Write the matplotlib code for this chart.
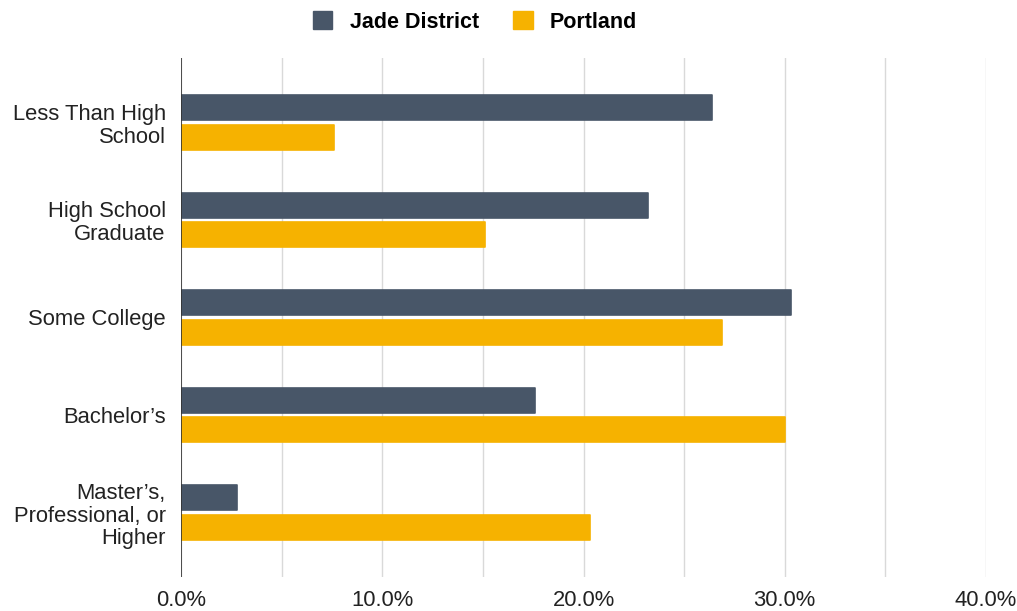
import numpy as np
import matplotlib.pyplot as plt
from matplotlib.patches import Patch
from matplotlib.ticker import MultipleLocator, FuncFormatter

plt.rcParams['font.family'] = ['Liberation Sans', 'DejaVu Sans']

categories = ["Less Than High\nSchool", "High School\nGraduate", "Some College",
              "Bachelor\u2019s", "Master\u2019s,\nProfessional, or\nHigher"]
jade = [26.4, 23.2, 30.3, 17.6, 2.8]
portland = [7.6, 15.1, 26.9, 30.0, 20.3]
series_names = ["Jade District", "Portland"]

jade_color = '#485668'
portland_color = '#f6b200'

fig = plt.figure(figsize=(10.17, 6.11), dpi=100)
ax = fig.add_axes([181 / 1017, 1 - 577 / 611, (986 - 181) / 1017, (577 - 58) / 611])

y = np.arange(len(categories))
h = 0.255
gap = 0.05
for vals, off, col in [(jade, -(h + gap) / 2, jade_color), (portland, (h + gap) / 2, portland_color)]:
    ax.barh(y + off, vals, height=h, color=col, edgecolor=col, linewidth=1.2,
            joinstyle='round', zorder=3)

ax.set_xlim(0, 40)
ax.set_ylim(4.66, -0.66)
ax.xaxis.set_major_locator(MultipleLocator(10))
ax.xaxis.set_minor_locator(MultipleLocator(5))
ax.xaxis.set_major_formatter(FuncFormatter(lambda v, p: f"{v:.1f}%"))
ax.grid(axis='x', which='both', color='#d9d9d9', linewidth=1, zorder=0)
ax.axvline(0, color='#333333', linewidth=1.2, zorder=4)
for s in ax.spines.values():
    s.set_visible(False)
ax.tick_params(axis='both', which='both', length=0, labelsize=15.8, colors='#222222')
ax.tick_params(axis='x', pad=9)
ax.tick_params(axis='y', pad=11)
ax.set_yticks(y)
ax.set_yticklabels(categories, linespacing=1.12)

handles = [Patch(facecolor=jade_color, edgecolor=jade_color),
           Patch(facecolor=portland_color, edgecolor=portland_color)]
fig.legend(handles, series_names, loc='center', bbox_to_anchor=(475 / 1017, 1 - 22 / 611),
           ncol=2, frameon=False, handlelength=0.9, handleheight=0.9, handletextpad=0.8,
           columnspacing=1.6, prop={'weight': 'bold', 'size': 15.5})

fig.savefig('out.png', dpi=100)
